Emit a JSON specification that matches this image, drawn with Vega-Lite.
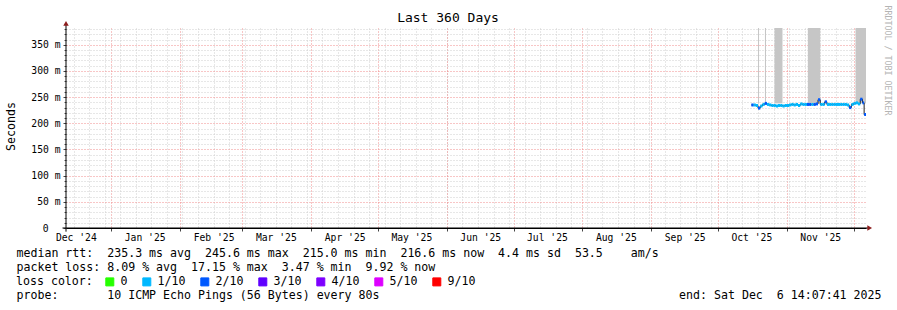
{
  "$schema": "https://vega.github.io/schema/vega-lite/v6.json",
  "width": 800,
  "height": 200,
  "autosize": {"type": "none"},
  "padding": {"left": 66, "top": 28, "right": 31, "bottom": 82},
  "background": "white",
  "config": {"view": {"stroke": null}, "font": "DejaVu Sans Mono"},
  "title": {"text": "Last 360 Days", "font": "DejaVu Sans Mono", "fontSize": 13, "fontWeight": "normal", "color": "black", "anchor": "middle", "frame": "group", "dx": -18, "dy": 38, "offset": 5, "baseline": "bottom"},
  "datasets": {
    "smoke": [
      {"t": "2025-10-19T00:00:00Z", "t2": "2025-10-19T11:00:00Z", "lo": 238, "hi": 382},
      {"t": "2025-10-22T03:00:00Z", "t2": "2025-10-22T14:00:00Z", "lo": 238, "hi": 382},
      {"t": "2025-10-26T10:00:00Z", "t2": "2025-10-30T00:00:00Z", "lo": 238, "hi": 382},
      {"t": "2025-11-10T10:00:00Z", "t2": "2025-11-16T00:00:00Z", "lo": 238, "hi": 382},
      {"t": "2025-12-01T21:00:00Z", "t2": "2025-12-06T14:07:41Z", "lo": 238, "hi": 382}
    ],
    "rtt": [
      {"t": "2025-10-16T00:00:00Z", "t2": "2025-10-17T00:00:00Z", "median": 235, "loss": "2/10"},
      {"t": "2025-10-17T00:00:00Z", "t2": "2025-10-18T00:00:00Z", "median": 235, "loss": "1/10"},
      {"t": "2025-10-18T00:00:00Z", "t2": "2025-10-19T00:00:00Z", "median": 234, "loss": "1/10"},
      {"t": "2025-10-19T00:00:00Z", "t2": "2025-10-20T00:00:00Z", "median": 229, "loss": "2/10"},
      {"t": "2025-10-20T00:00:00Z", "t2": "2025-10-21T00:00:00Z", "median": 233, "loss": "1/10"},
      {"t": "2025-10-21T00:00:00Z", "t2": "2025-10-22T00:00:00Z", "median": 236, "loss": "1/10"},
      {"t": "2025-10-22T00:00:00Z", "t2": "2025-10-23T00:00:00Z", "median": 238, "loss": "2/10"},
      {"t": "2025-10-23T00:00:00Z", "t2": "2025-10-24T00:00:00Z", "median": 236, "loss": "1/10"},
      {"t": "2025-10-24T00:00:00Z", "t2": "2025-10-25T00:00:00Z", "median": 235, "loss": "1/10"},
      {"t": "2025-10-25T00:00:00Z", "t2": "2025-10-26T00:00:00Z", "median": 234, "loss": "1/10"},
      {"t": "2025-10-26T00:00:00Z", "t2": "2025-10-27T00:00:00Z", "median": 234, "loss": "1/10"},
      {"t": "2025-10-27T00:00:00Z", "t2": "2025-10-28T00:00:00Z", "median": 233, "loss": "1/10"},
      {"t": "2025-10-28T00:00:00Z", "t2": "2025-10-29T00:00:00Z", "median": 234, "loss": "1/10"},
      {"t": "2025-10-29T00:00:00Z", "t2": "2025-10-30T00:00:00Z", "median": 234, "loss": "1/10"},
      {"t": "2025-10-30T00:00:00Z", "t2": "2025-10-31T00:00:00Z", "median": 233, "loss": "1/10"},
      {"t": "2025-10-31T00:00:00Z", "t2": "2025-11-01T00:00:00Z", "median": 234, "loss": "1/10"},
      {"t": "2025-11-01T00:00:00Z", "t2": "2025-11-02T00:00:00Z", "median": 234, "loss": "1/10"},
      {"t": "2025-11-02T00:00:00Z", "t2": "2025-11-03T00:00:00Z", "median": 235, "loss": "1/10"},
      {"t": "2025-11-03T00:00:00Z", "t2": "2025-11-04T00:00:00Z", "median": 236, "loss": "1/10"},
      {"t": "2025-11-04T00:00:00Z", "t2": "2025-11-05T00:00:00Z", "median": 235, "loss": "1/10"},
      {"t": "2025-11-05T00:00:00Z", "t2": "2025-11-06T00:00:00Z", "median": 236, "loss": "1/10"},
      {"t": "2025-11-06T00:00:00Z", "t2": "2025-11-07T00:00:00Z", "median": 234, "loss": "1/10"},
      {"t": "2025-11-07T00:00:00Z", "t2": "2025-11-08T00:00:00Z", "median": 237, "loss": "1/10"},
      {"t": "2025-11-08T00:00:00Z", "t2": "2025-11-09T00:00:00Z", "median": 236, "loss": "1/10"},
      {"t": "2025-11-09T00:00:00Z", "t2": "2025-11-10T00:00:00Z", "median": 236, "loss": "1/10"},
      {"t": "2025-11-10T00:00:00Z", "t2": "2025-11-11T00:00:00Z", "median": 236, "loss": "2/10"},
      {"t": "2025-11-11T00:00:00Z", "t2": "2025-11-12T00:00:00Z", "median": 236, "loss": "2/10"},
      {"t": "2025-11-12T00:00:00Z", "t2": "2025-11-13T00:00:00Z", "median": 236, "loss": "1/10"},
      {"t": "2025-11-13T00:00:00Z", "t2": "2025-11-14T00:00:00Z", "median": 236, "loss": "2/10"},
      {"t": "2025-11-14T00:00:00Z", "t2": "2025-11-15T00:00:00Z", "median": 237, "loss": "2/10"},
      {"t": "2025-11-15T00:00:00Z", "t2": "2025-11-16T00:00:00Z", "median": 245, "loss": "2/10"},
      {"t": "2025-11-16T00:00:00Z", "t2": "2025-11-17T00:00:00Z", "median": 236, "loss": "1/10"},
      {"t": "2025-11-17T00:00:00Z", "t2": "2025-11-18T00:00:00Z", "median": 236, "loss": "1/10"},
      {"t": "2025-11-18T00:00:00Z", "t2": "2025-11-19T00:00:00Z", "median": 241, "loss": "2/10"},
      {"t": "2025-11-19T00:00:00Z", "t2": "2025-11-20T00:00:00Z", "median": 236, "loss": "1/10"},
      {"t": "2025-11-20T00:00:00Z", "t2": "2025-11-21T00:00:00Z", "median": 236, "loss": "1/10"},
      {"t": "2025-11-21T00:00:00Z", "t2": "2025-11-22T00:00:00Z", "median": 236, "loss": "1/10"},
      {"t": "2025-11-22T00:00:00Z", "t2": "2025-11-23T00:00:00Z", "median": 236, "loss": "1/10"},
      {"t": "2025-11-23T00:00:00Z", "t2": "2025-11-24T00:00:00Z", "median": 236, "loss": "1/10"},
      {"t": "2025-11-24T00:00:00Z", "t2": "2025-11-25T00:00:00Z", "median": 236, "loss": "1/10"},
      {"t": "2025-11-25T00:00:00Z", "t2": "2025-11-26T00:00:00Z", "median": 236, "loss": "1/10"},
      {"t": "2025-11-26T00:00:00Z", "t2": "2025-11-27T00:00:00Z", "median": 236, "loss": "1/10"},
      {"t": "2025-11-27T00:00:00Z", "t2": "2025-11-28T00:00:00Z", "median": 236, "loss": "1/10"},
      {"t": "2025-11-28T00:00:00Z", "t2": "2025-11-29T00:00:00Z", "median": 235, "loss": "1/10"},
      {"t": "2025-11-29T00:00:00Z", "t2": "2025-11-30T00:00:00Z", "median": 230, "loss": "2/10"},
      {"t": "2025-11-30T00:00:00Z", "t2": "2025-12-01T00:00:00Z", "median": 236, "loss": "1/10"},
      {"t": "2025-12-01T00:00:00Z", "t2": "2025-12-02T00:00:00Z", "median": 238, "loss": "1/10"},
      {"t": "2025-12-02T00:00:00Z", "t2": "2025-12-03T00:00:00Z", "median": 239, "loss": "1/10"},
      {"t": "2025-12-03T00:00:00Z", "t2": "2025-12-04T00:00:00Z", "median": 237, "loss": "1/10"},
      {"t": "2025-12-04T00:00:00Z", "t2": "2025-12-05T00:00:00Z", "median": 246, "loss": "2/10"},
      {"t": "2025-12-05T00:00:00Z", "t2": "2025-12-05T18:00:00Z", "median": 239, "loss": "2/10"},
      {"t": "2025-12-05T18:00:00Z", "t2": "2025-12-06T14:07:41Z", "median": 216.6, "loss": "2/10"},
      {"t": "2025-12-06T14:07:41Z", "t2": "2025-12-06T14:07:41Z", "median": 216.6, "loss": "2/10"}
    ]
  },
  "layer": [
    {
      "data": {"name": "smoke"},
      "mark": {"type": "rect", "color": "#c6c6c6"},
      "encoding": {
        "x": {"field": "t", "type": "temporal",
          "scale": {"type": "utc", "nice": false, "domain": [{"year": 2024, "month": 12, "date": 11, "hours": 14, "minutes": 7, "seconds": 41, "utc": true}, {"year": 2025, "month": 12, "date": 6, "hours": 14, "minutes": 7, "seconds": 41, "utc": true}]},
          "axis": {"orient": "bottom", "tickCount": {"interval": "week", "step": 1}, "grid": true, "gridColor": "#cfcfcf", "gridDash": [1, 2], "labels": false, "ticks": false, "domain": false,
            "title": "end:\u00a0Sat\u00a0Dec\u00a0\u00a06\u00a014:07:41\u00a02025", "titleFont": "DejaVu Sans Mono", "titleFontSize": 11.6, "titleFontWeight": "normal", "titleColor": "black", "titleAlign": "right", "titleBaseline": "top", "titleX": 815, "titleY": 61, "titleAngle": 0}},
        "x2": {"field": "t2"},
        "y": {"field": "lo", "type": "quantitative", "scale": {"domain": [0, 382], "nice": false, "zero": true},
          "axis": {"orient": "left", "values": [10, 20, 30, 40, 60, 70, 80, 90, 110, 120, 130, 140, 160, 170, 180, 190, 210, 220, 230, 240, 260, 270, 280, 290, 310, 320, 330, 340, 360, 370, 380], "grid": true, "gridColor": "#cfcfcf", "gridDash": [1, 2], "labels": false, "ticks": true, "tickSize": 2, "tickColor": "#555555", "domain": false, "title": null}},
        "y2": {"field": "hi"}
      }
    },
    {
      "data": {"name": "rtt"},
      "mark": {"type": "line", "interpolate": "step-after", "color": "#202020", "strokeWidth": 1},
      "encoding": {
        "x": {"field": "t", "type": "temporal",
          "axis": {"orient": "bottom", "tickCount": {"interval": "month", "step": 1}, "grid": true, "gridColor": "#f08c8c", "gridDash": [1, 2], "labels": false, "ticks": true, "tickSize": 3, "tickColor": "#444444", "domain": false,
            "title": "probe:\u00a0\u00a0\u00a0\u00a0\u00a0\u00a0\u00a010\u00a0ICMP\u00a0Echo\u00a0Pings\u00a0(56\u00a0Bytes)\u00a0every\u00a080s", "titleFont": "DejaVu Sans Mono", "titleFontSize": 11.6, "titleFontWeight": "normal", "titleColor": "black", "titleAlign": "left", "titleBaseline": "top", "titleX": -50, "titleY": 61, "titleAngle": 0}},
        "y": {"field": "median", "type": "quantitative",
          "axis": {"orient": "left", "values": [0, 50, 100, 150, 200, 250, 300, 350], "grid": true, "gridColor": "#f08c8c", "gridDash": [1, 2], "ticks": true, "tickSize": 3, "tickColor": "#444444", "domain": false,
            "labelExpr": "datum.value == 0 ? '0' : datum.value + '\u00a0m'", "labelFont": "DejaVu Sans Mono", "labelFontSize": 9.7, "labelColor": "black",
            "labelPadding": {"condition": {"test": "datum.value == 0", "value": 15}, "value": 3},
            "title": "Seconds", "titleFont": "DejaVu Sans Mono", "titleFontSize": 11.6, "titleFontWeight": "normal", "titleColor": "black", "titleAngle": -90, "titleX": -55, "titleY": 98, "titleAlign": "center", "titleBaseline": "middle"}}
      }
    },
    {
      "data": {"name": "rtt"},
      "mark": {"type": "rule", "strokeWidth": 3, "strokeCap": "butt"},
      "encoding": {
        "x": {"field": "t", "type": "temporal",
          "axis": {"orient": "bottom", "values": [{"year": 2024, "month": 12, "date": 16, "utc": true}, {"year": 2025, "month": 1, "date": 16, "utc": true}, {"year": 2025, "month": 2, "date": 16, "utc": true}, {"year": 2025, "month": 3, "date": 16, "utc": true}, {"year": 2025, "month": 4, "date": 16, "utc": true}, {"year": 2025, "month": 5, "date": 16, "utc": true}, {"year": 2025, "month": 6, "date": 16, "utc": true}, {"year": 2025, "month": 7, "date": 16, "utc": true}, {"year": 2025, "month": 8, "date": 16, "utc": true}, {"year": 2025, "month": 9, "date": 16, "utc": true}, {"year": 2025, "month": 10, "date": 16, "utc": true}, {"year": 2025, "month": 11, "date": 16, "utc": true}],
            "format": "%b '%y", "grid": false, "ticks": false, "domain": true, "domainColor": "black", "domainWidth": 1,
            "labelFont": "DejaVu Sans Mono", "labelFontSize": 9.7, "labelColor": "black", "labelPadding": 4, "labelFlush": false, "labelOverlap": false,
            "title": ["median\u00a0rtt:\u00a0\u00a0235.3\u00a0ms\u00a0avg\u00a0\u00a0245.6\u00a0ms\u00a0max\u00a0\u00a0215.0\u00a0ms\u00a0min\u00a0\u00a0216.6\u00a0ms\u00a0now\u00a0\u00a04.4\u00a0ms\u00a0sd\u00a0\u00a053.5\u00a0\u00a0\u00a0\u00a0am/s", "packet\u00a0loss:\u00a08.09\u00a0%\u00a0avg\u00a0\u00a017.15\u00a0%\u00a0max\u00a0\u00a03.47\u00a0%\u00a0min\u00a0\u00a09.92\u00a0%\u00a0now"],
            "titleFont": "DejaVu Sans Mono", "titleFontSize": 11.6, "titleFontWeight": "normal", "titleColor": "black", "titleAlign": "left", "titleBaseline": "top", "titleX": -50, "titleY": 19, "titleLineHeight": 14, "titleAngle": 0}},
        "x2": {"field": "t2"},
        "y": {"field": "median", "type": "quantitative",
          "axis": {"orient": "right", "grid": false, "labels": false, "ticks": false, "domain": false,
            "title": "RRDTOOL\u00a0/\u00a0TOBI\u00a0OETIKER", "titleFont": "DejaVu Sans Mono", "titleFontSize": 8.3, "titleFontWeight": "normal", "titleColor": "#b4b4b4", "titleAngle": 90, "titleAlign": "left", "titleBaseline": "middle", "titleX": 20, "titleY": -23}},
        "color": {"field": "loss", "type": "nominal",
          "scale": {"domain": ["0", "1/10", "2/10", "3/10", "4/10", "5/10", "9/10"], "range": ["#26ff00", "#00b8ff", "#0059ff", "#5e00ff", "#7e00ff", "#dd00ff", "#ff0000"]},
          "legend": {"orient": "none", "legendX": -50, "legendY": 248, "direction": "horizontal", "columns": 7, "title": "loss\u00a0color:", "titleOrient": "left", "titleFont": "DejaVu Sans Mono", "titleFontSize": 11.6, "titleFontWeight": "normal", "titleColor": "black", "titlePadding": 11, "titleBaseline": "middle", "titleAnchor": "middle",
            "labelFont": "DejaVu Sans Mono", "labelFontSize": 11.6, "labelColor": "black", "labelOffset": 5, "symbolType": "square", "symbolSize": 64, "symbolStrokeColor": "black", "symbolStrokeWidth": 1, "columnPadding": 12, "padding": 0,
            "encode": {"symbols": {"update": {"fill": {"scale": "color", "field": "value"}, "stroke": {"value": "black"}, "fillOpacity": {"value": 1}}}}}
        }
      }
    },
    {
      "data": {"values": [{}]},
      "mark": {"type": "rule", "color": "black", "strokeWidth": 1},
      "encoding": {
        "x": {"datum": {"year": 2024, "month": 12, "date": 10, "hours": 0, "utc": true}, "type": "temporal", "axis": null},
        "x2": {"datum": {"year": 2025, "month": 12, "date": 8, "hours": 0, "utc": true}},
        "y": {"datum": 0, "type": "quantitative", "axis": null}
      }
    },
    {
      "data": {"values": [{}]},
      "mark": {"type": "rule", "color": "black", "strokeWidth": 1},
      "encoding": {
        "x": {"datum": {"year": 2024, "month": 12, "date": 11, "hours": 14, "minutes": 7, "seconds": 41, "utc": true}, "type": "temporal", "axis": null},
        "y": {"datum": -7, "type": "quantitative", "axis": null},
        "y2": {"datum": 389}
      }
    },
    {
      "data": {"values": [{}]},
      "mark": {"type": "point", "shape": "triangle-right", "filled": true, "color": "#8c1c1c", "size": 30, "opacity": 1},
      "encoding": {
        "x": {"datum": {"year": 2025, "month": 12, "date": 8, "hours": 6, "utc": true}, "type": "temporal", "axis": null},
        "y": {"datum": 0, "type": "quantitative", "axis": null}
      }
    },
    {
      "data": {"values": [{}]},
      "mark": {"type": "point", "shape": "triangle-up", "filled": true, "color": "#8c1c1c", "size": 30, "opacity": 1},
      "encoding": {
        "x": {"datum": {"year": 2024, "month": 12, "date": 11, "hours": 14, "minutes": 7, "seconds": 41, "utc": true}, "type": "temporal", "axis": null},
        "y": {"datum": 391, "type": "quantitative", "axis": null}
      }
    }
  ],
  "resolve": {"axis": {"x": "independent", "y": "independent"}}
}
